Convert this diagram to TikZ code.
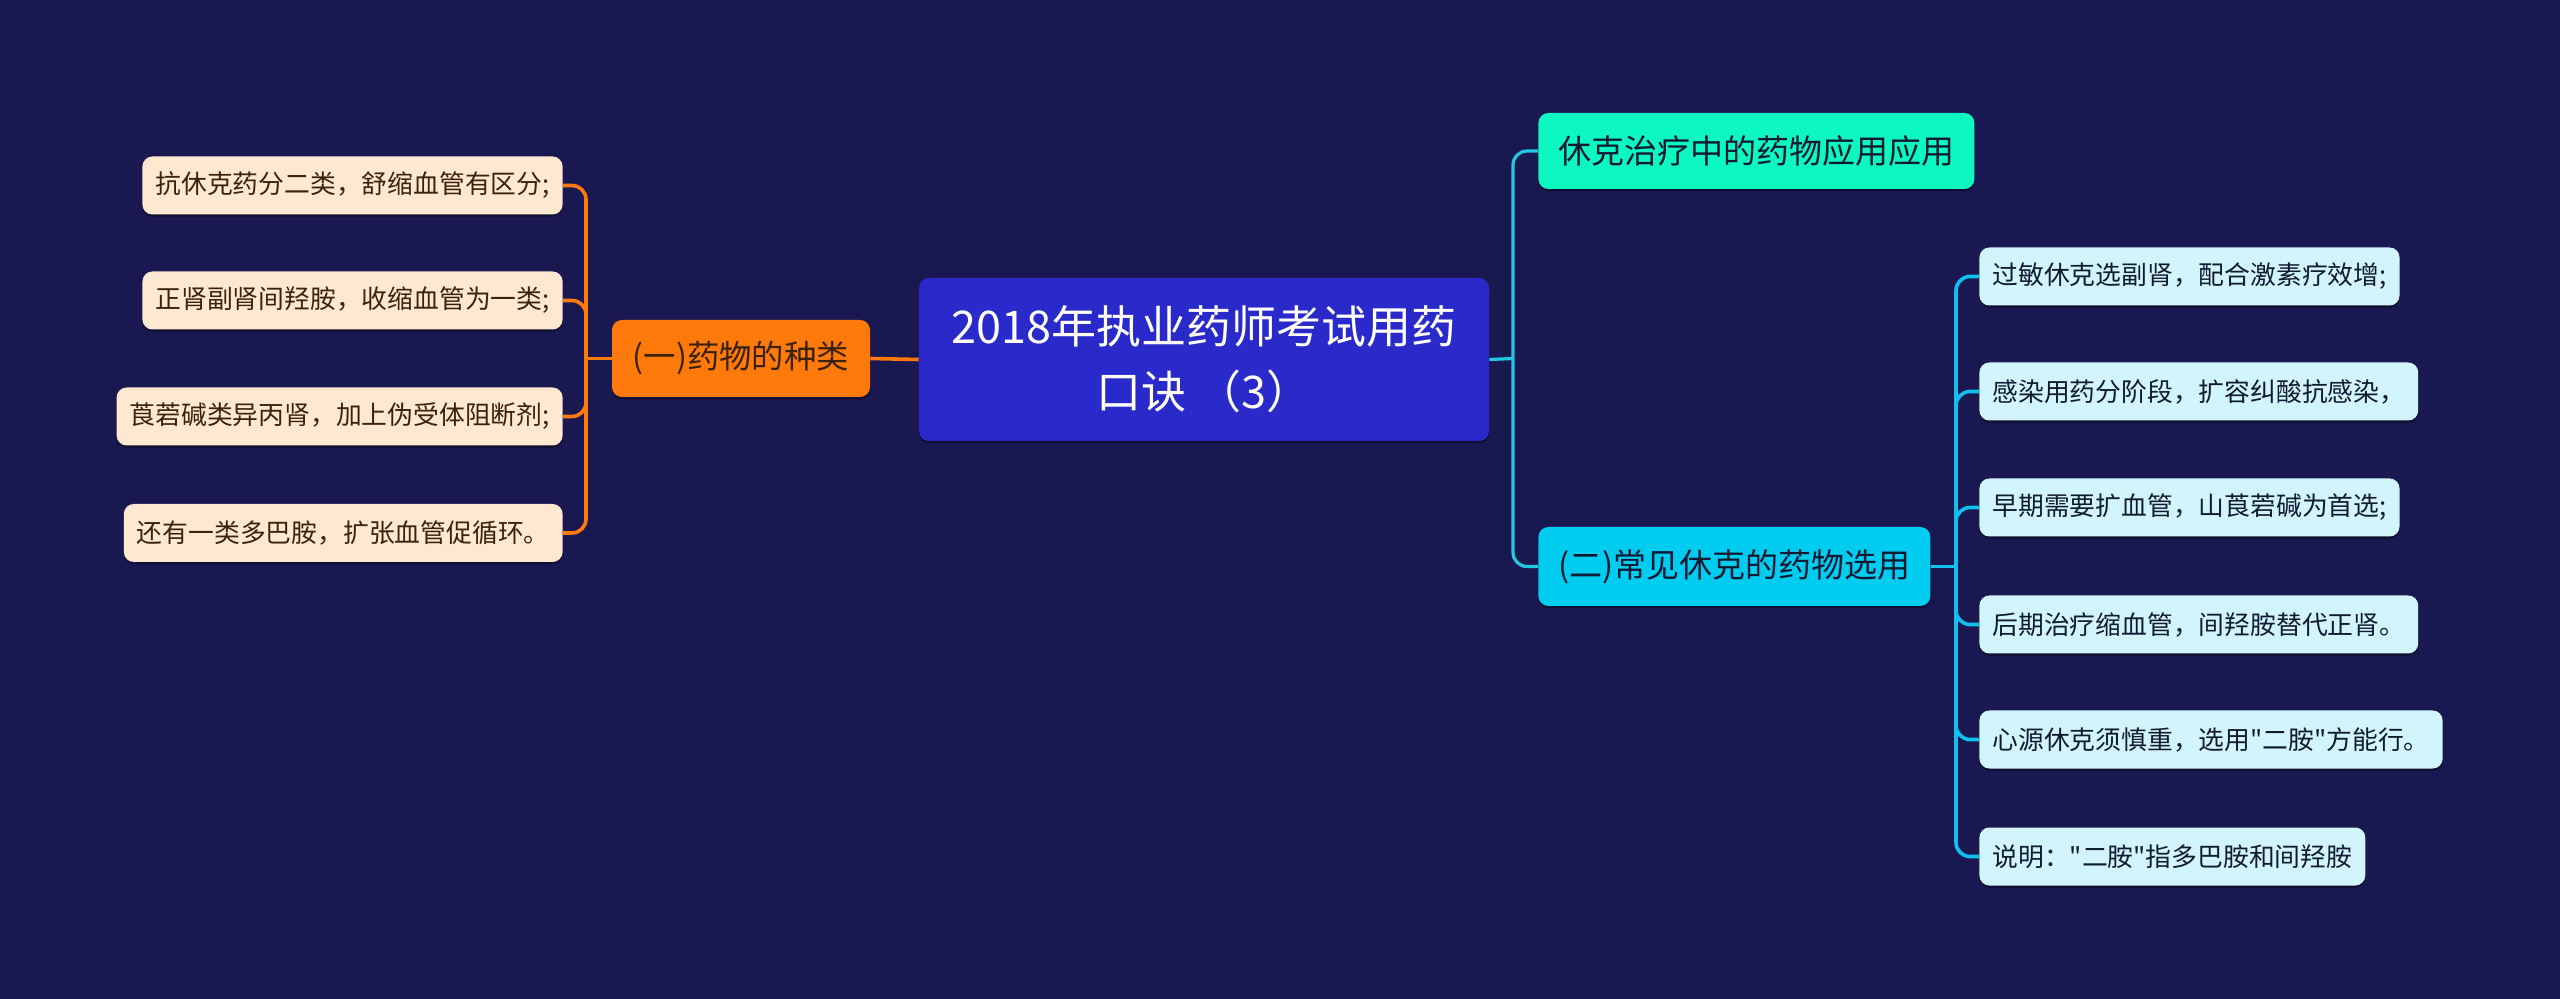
\documentclass[tikz,border=0pt]{standalone}
\usepackage{fontspec}
\setmainfont{Noto Sans CJK SC}[Ligatures=TeXOff]
\usetikzlibrary{shadows}
\definecolor{bgc}{HTML}{1A1851}
\definecolor{rootc}{HTML}{2A2ACB}
\definecolor{orangec}{HTML}{FF7A0A}
\definecolor{peachc}{HTML}{FFE8D2}
\definecolor{browntxt}{HTML}{3A220C}
\definecolor{greenc}{HTML}{0CF8C0}
\definecolor{cyanc}{HTML}{00CCF0}
\definecolor{lcyanc}{HTML}{D2F5FC}
\definecolor{navytxt}{HTML}{111A33}
\definecolor{lineA}{HTML}{22C8E2}
\definecolor{lineB}{HTML}{10C0EE}
\tikzset{
  box/.style={rounded corners=5pt, inner ysep=0pt, drop shadow={shadow xshift=0pt, shadow yshift=-1.2pt, fill=black, opacity=0.35}},
  rootbox/.style={box, fill=rootc, text=white, minimum width=285pt, minimum height=81.5pt, align=center, font=\fontsize{22.5pt}{32.5pt}\selectfont},
  orangebox/.style={box, fill=orangec, text=browntxt, minimum width=129pt, minimum height=38.5pt, font=\fontsize{16.2pt}{19pt}\selectfont},
  greenbox/.style={box, fill=greenc, text=navytxt, minimum height=38pt, inner xsep=0pt, font=\fontsize{16.5pt}{19pt}\selectfont},
  cyanbox/.style={box, fill=cyanc, text=navytxt, minimum height=39.5pt, inner xsep=0pt, font=\fontsize{16.5pt}{19pt}\selectfont},
  lleaf/.style={box, fill=peachc, text=browntxt, minimum height=29pt, inner xsep=6.5pt, font=\fontsize{12.9pt}{15pt}\selectfont},
  rleaf/.style={box, fill=lcyanc, text=navytxt, minimum height=29pt, inner xsep=6.5pt, font=\fontsize{12.9pt}{15pt}\selectfont},
  olink/.style={draw=orangec, line width=1.8pt, rounded corners=7pt},
  alink/.style={draw=lineA, line width=1.6pt, rounded corners=7pt},
  blink/.style={draw=lineB, line width=1.8pt, rounded corners=7pt}
}
\begin{document}
\begin{tikzpicture}[x=0.5pt,y=-0.5pt]
\useasboundingbox (0,0) rectangle (2560,999);
\fill[bgc] (0,0) rectangle (2560,999);

\node[rootbox] (root) at (1204,359.5) {2018年执业药师考试用药\\口诀 （3）};

\node[orangebox] (kind) at (741,358.5) {(一)药物的种类};
\node[lleaf, anchor=east] (l1) at (563,185.5) {抗休克药分二类，舒缩血管有区分;};
\node[lleaf, anchor=east] (l2) at (563,300.5) {正肾副肾间羟胺，收缩血管为一类;};
\node[lleaf, anchor=east] (l3) at (563,416.5) {莨菪碱类异丙肾，加上伪受体阻断剂;};
\node[lleaf, anchor=east] (l4) at (563,533) {还有一类多巴胺，扩张血管促循环。};

\node[greenbox, anchor=west, minimum width=218pt] (app) at (1538,151) {休克治疗中的药物应用应用};
\node[cyanbox, anchor=west, minimum width=196pt] (sel) at (1538,566.5) {(二)常见休克的药物选用};

\node[rleaf, anchor=west] (r1) at (1979,276.5) {过敏休克选副肾，配合激素疗效增;};
\node[rleaf, anchor=west] (r2) at (1979,391.5) {感染用药分阶段，扩容纠酸抗感染，};
\node[rleaf, anchor=west] (r3) at (1979,507.5) {早期需要扩血管，山莨菪碱为首选;};
\node[rleaf, anchor=west] (r4) at (1979,624.5) {后期治疗缩血管，间羟胺替代正肾。};
\node[rleaf, anchor=west] (r5) at (1979,739.5) {心源休克须慎重，选用"二胺"方能行。};
\node[rleaf, anchor=west] (r6) at (1979,856.5) {说明："二胺"指多巴胺和间羟胺};

\coordinate (oj) at (586,358.5);
\coordinate (rj) at (1513,358.5);
\coordinate (cj) at (1956,566.5);

\draw[olink] (root.west) -- (kind.east);
\draw[olink] (kind.west) -- (oj);
\foreach \n in {l1,l2,l3,l4} \draw[olink] (oj) |- (\n.east);

\draw[alink] (root.east) -- (rj);
\draw[alink] (rj) |- (app.west);
\draw[alink] (rj) |- (sel.west);

\draw[blink] (sel.east) -- (cj);
\foreach \n in {r1,r2,r3,r4,r5,r6} \draw[blink] (cj) |- (\n.west);
\end{tikzpicture}
\end{document}
